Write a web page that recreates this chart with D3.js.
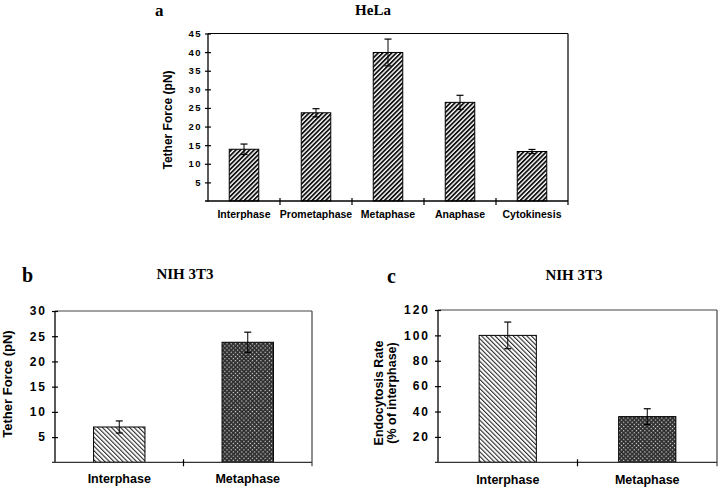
<!DOCTYPE html>
<html>
<head>
<meta charset="utf-8">
<script src="https://cdn.jsdelivr.net/npm/d3@7"></script>
<style>
  html, body { margin: 0; padding: 0; background: #fff; }
  svg { display: block; }
  .sans { font-family: Arial, "Liberation Sans", Helvetica, sans-serif; font-weight: bold; }
  .serif { font-family: "Times New Roman", "Liberation Serif", Times, serif; font-weight: bold; }
</style>
</head>
<body>
<svg id="chart" width="720" height="493"></svg>
<script>
// ---------- Data ----------
const catsA = ["Interphase", "Prometaphase", "Metaphase", "Anaphase", "Cytokinesis"];
const valsA = [13.9, 23.7, 39.9, 26.5, 13.3];
const errA  = [1.4, 1.1, 3.6, 1.9, 0.55];
const ticksA = [5, 10, 15, 20, 25, 30, 35, 40, 45];

const catsB = ["Interphase", "Metaphase"];
const valsB = [7.0, 23.8];
const errB  = [1.2, 2.0];
const ticksB = [5, 10, 15, 20, 25, 30];

const catsC = ["Interphase", "Metaphase"];
const valsC = [100, 36];
const errC  = [10.5, 6.2];
const ticksC = [20, 40, 60, 80, 100, 120];

const svg = d3.select("#chart");
const defs = svg.append("defs");

// Patterns
const pA = defs.append("pattern").attr("id", "hatchA")
  .attr("patternUnits", "userSpaceOnUse").attr("width", 3.2).attr("height", 3.2)
  .attr("patternTransform", "rotate(45)");
pA.append("rect").attr("width", 3.2).attr("height", 3.2).attr("fill", "#fff");
pA.append("rect").attr("width", 1.8).attr("height", 3.2).attr("fill", "#111");

const pB = defs.append("pattern").attr("id", "hatchB")
  .attr("patternUnits", "userSpaceOnUse").attr("width", 3.2).attr("height", 3.2)
  .attr("patternTransform", "rotate(-45)");
pB.append("rect").attr("width", 3.2).attr("height", 3.2).attr("fill", "#fff");
pB.append("rect").attr("width", 1.1).attr("height", 3.2).attr("fill", "#2a2a2a");

const pC = defs.append("pattern").attr("id", "checker")
  .attr("patternUnits", "userSpaceOnUse").attr("width", 3).attr("height", 3)
  .attr("patternTransform", "rotate(45)");
pC.append("rect").attr("width", 3).attr("height", 3).attr("fill", "#2e2e2e");
pC.append("rect").attr("x", 1).attr("y", 1).attr("width", 1.2).attr("height", 1.2).attr("fill", "#e0e0e0");

function panel(opt) {
  const g = svg.append("g");
  const x = d3.scaleBand().domain(opt.cats).range([opt.x0, opt.x1]).padding(0);
  const y = d3.scaleLinear().domain([0, opt.ymax]).range([opt.y0, opt.yTop]);
  const bw = x.bandwidth() * opt.barFrac;

  // frame (top & right)
  g.append("line").attr("x1", opt.x0).attr("x2", opt.x1)
    .attr("y1", y(opt.ymax)).attr("y2", y(opt.ymax))
    .attr("stroke", opt.frameColor).attr("stroke-width", 1.2);
  g.append("line").attr("x1", opt.x1).attr("x2", opt.x1)
    .attr("y1", y(opt.ymax)).attr("y2", opt.y0 + 4)
    .attr("stroke", opt.frameColor).attr("stroke-width", 1.2);

  // bars
  g.selectAll("rect.bar").data(opt.vals).join("rect").attr("class", "bar")
    .attr("x", (d, i) => x(opt.cats[i]) + (x.bandwidth() - bw) / 2)
    .attr("width", bw)
    .attr("y", d => y(d))
    .attr("height", d => y(0) - y(d))
    .attr("fill", (d, i) => `url(#${opt.fills[i]})`)
    .attr("stroke", "#000").attr("stroke-width", 1);

  // error bars
  const cap = opt.cap;
  opt.vals.forEach((v, i) => {
    const cx = x(opt.cats[i]) + x.bandwidth() / 2;
    const hi = y(v + opt.errs[i]), lo = y(v - opt.errs[i]);
    g.append("line").attr("x1", cx).attr("x2", cx).attr("y1", hi).attr("y2", lo)
      .attr("stroke", "#000").attr("stroke-width", 1);
    [hi, lo].forEach(yy => g.append("line")
      .attr("x1", cx - cap / 2).attr("x2", cx + cap / 2).attr("y1", yy).attr("y2", yy)
      .attr("stroke", "#000").attr("stroke-width", 1.2));
  });

  // y axis
  const ya = g.append("g").attr("transform", `translate(${opt.x0},0)`)
    .call(d3.axisLeft(y).tickValues(opt.ticks).tickSize(0).tickPadding(opt.tickPad).tickSizeOuter(0));
  ya.select(".domain").attr("stroke", "#000").attr("stroke-width", 1.3)
    .attr("d", `M0,${opt.y0 + 0.5}V${y(opt.ymax)}`);
  ya.selectAll(".tick line").remove();
  ya.selectAll(".tick").append("line").attr("x1", -3).attr("x2", 3).attr("stroke", "#000").attr("stroke-width", 1.2);
  ya.selectAll(".tick text").attr("class", "sans").attr("fill", "#000")
    .style("font-size", opt.tickFont + "px").style("letter-spacing", opt.tickLS + "px")
    .style("font-family", "Arial, 'Liberation Sans', Helvetica, sans-serif").style("font-weight", "bold");

  // x axis
  const xa = g.append("g").attr("transform", `translate(0,${opt.y0})`)
    .call(d3.axisBottom(x).tickSize(0).tickPadding(opt.xPad));
  xa.select(".domain").attr("stroke", opt.xAxisColor).attr("stroke-width", 1.3)
    .attr("d", `M${opt.x0 - 3},0H${opt.x1}`);
  xa.selectAll(".tick text").attr("fill", "#000")
    .style("font-size", opt.xFont + "px")
    .style("font-family", "Arial, 'Liberation Sans', Helvetica, sans-serif").style("font-weight", "bold");
  // category separators
  const seps = opt.cats.slice(1).map(c => x(c));
  xa.selectAll("line.sep").data(seps).join("line").attr("class", "sep")
    .attr("x1", d => d).attr("x2", d => d).attr("y1", -3).attr("y2", 4)
    .attr("stroke", "#000").attr("stroke-width", 1.2);

  // y label
  const yl = g.append("text").attr("class", "sans")
    .attr("transform", `translate(${opt.ylabX},${opt.ylabY}) rotate(-90)`)
    .attr("text-anchor", "middle").style("font-size", opt.ylabFont + "px");
  opt.ylab.forEach((t, i) => yl.append("tspan").attr("x", 0).attr("dy", i === 0 ? 0 : opt.ylabFont * 1.05).text(t));

  // titles
  g.append("text").attr("class", "serif").attr("x", opt.letterX).attr("y", opt.letterY)
    .style("font-size", opt.letterFont + "px").text(opt.letter);
  g.append("text").attr("class", "serif").attr("x", opt.titleX).attr("y", opt.titleY)
    .attr("text-anchor", "middle").style("font-size", "15px").text(opt.title);
}

panel({
  cats: catsA, vals: valsA, errs: errA, ticks: ticksA, ymax: 45,
  x0: 208, x1: 568, y0: 201, yTop: 33.5, barFrac: 0.41,
  fills: catsA.map(() => "hatchA"), cap: 7, frameColor: "#000", xAxisColor: "#000",
  tickFont: 9.5, tickLS: 1.5, tickPad: 6, xFont: 10.5, xPad: 10,
  ylab: ["Tether Force (pN)"], ylabX: 172, ylabY: 120, ylabFont: 12,
  letter: "a", letterX: 155, letterY: 16, letterFont: 17, title: "HeLa", titleX: 373, titleY: 15
});

panel({
  cats: catsB, vals: valsB, errs: errB, ticks: ticksB, ymax: 30,
  x0: 55, x1: 312, y0: 462.3, yTop: 311, barFrac: 0.4,
  fills: ["hatchB", "checker"], cap: 7, frameColor: "#444", xAxisColor: "#333",
  tickFont: 12, tickLS: 2, tickPad: 8, xFont: 12.5, xPad: 12,
  ylab: ["Tether Force (pN)"], ylabX: 12, ylabY: 384, ylabFont: 13,
  letter: "b", letterX: 22, letterY: 282, letterFont: 20, title: "NIH 3T3", titleX: 185, titleY: 279
});

panel({
  cats: catsC, vals: valsC, errs: errC, ticks: ticksC, ymax: 120,
  x0: 438, x1: 717, y0: 462.3, yTop: 310, barFrac: 0.41,
  fills: ["hatchB", "checker"], cap: 7, frameColor: "#444", xAxisColor: "#333",
  tickFont: 12, tickLS: 2, tickPad: 8, xFont: 12.5, xPad: 13,
  ylab: ["Endocytosis Rate", "(% of interphase)"], ylabX: 383, ylabY: 393, ylabFont: 12.5,
  letter: "c", letterX: 387, letterY: 283, letterFont: 20, title: "NIH 3T3", titleX: 574, titleY: 280
});
</script>
</body>
</html>
